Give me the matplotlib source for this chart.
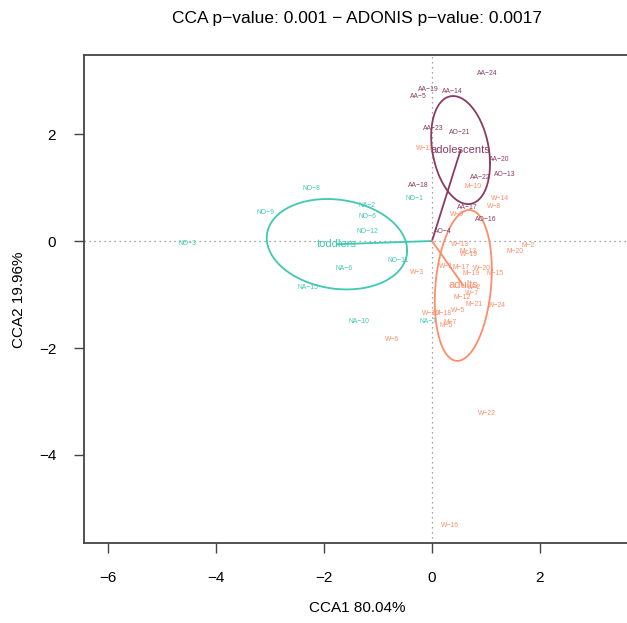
import matplotlib
matplotlib.use("Agg")
import matplotlib.pyplot as plt
import numpy as np

plt.rcParams['font.family'] = ['Liberation Sans', 'DejaVu Sans']

# site scores (CCA1, CCA2) per age group
toddler_ids = ['NO-8', 'NA-2', 'NO-9', 'NO-6', 'NO-12', 'NO-3', 'NO-11', 'NA-6',
               'NA-15', 'NA-10', 'NO-1', 'NA-7']
toddler_x = [-2.24, -1.20, -3.09, -1.19, -1.19, -4.52, -0.63, -1.63, -2.30, -1.35, -0.33, -0.07]
toddler_y = [0.99, 0.67, 0.54, 0.45, 0.17, -0.04, -0.37, -0.52, -0.86, -1.50, 0.79, -1.51]

adol_ids = ['AA-24', 'AA-19', 'AA-5', 'AA-14', 'AA-23', 'AO-21', 'AA-20', 'AO-13',
            'AA-22', 'AA-18', 'AA-17', 'AO-16', 'AO-4']
adol_x = [1.02, -0.07, -0.26, 0.37, 0.02, 0.52, 1.24, 1.35, 0.89, -0.26, 0.65, 1.00, 0.20]
adol_y = [3.14, 2.84, 2.71, 2.79, 2.11, 2.02, 1.53, 1.25, 1.18, 1.03, 0.62, 0.41, 0.17]

adult_ids = ['W-11', 'M-10', 'W-14', 'W-8', 'W-9', 'W-13', 'M-2', 'M-20', 'M-13', 'W-19',
             'W-3', 'W-1', 'M-17', 'W-20', 'M-19', 'M-15', 'W-2', 'W-7', 'M-12', 'M-21',
             'W-24', 'W-5', 'W-10', 'M-18', 'M-5', 'M-7', 'W-6', 'W-22', 'W-16']
adult_x = [-0.13, 0.76, 1.26, 1.15, 0.46, 0.52, 1.78, 1.54, 0.67, 0.69,
           -0.28, 0.26, 0.54, 0.93, 0.72, 1.17, 0.78, 0.74, 0.56, 0.78,
           1.20, 0.48, -0.02, 0.20, 0.26, 0.33, -0.74, 1.02, 0.33]
adult_y = [1.72, 1.01, 0.79, 0.65, 0.49, -0.07, -0.09, -0.19, -0.19, -0.26,
           -0.58, -0.47, -0.49, -0.52, -0.60, -0.60, -0.86, -0.98, -1.05, -1.18,
           -1.21, -1.29, -1.35, -1.36, -1.58, -1.52, -1.85, -3.23, -5.31]

groups = ['toddlers', 'adolescents', 'adults']
group_colors = ['#3ec9b3', '#8b3a62', '#ff8c69']
# group centroids and ellipse covariance (xx, yy, xy)
centroid_x = [-1.76, 0.53, 0.58]
centroid_y = [-0.06, 1.70, -0.83]
ell_cov = [(1.69, 0.714, -0.152), (0.297, 1.02, -0.14), (0.279, 1.99, 0.155)]

fig = plt.figure(figsize=(6.27, 6.23), dpi=100)
ax = fig.add_axes([84 / 627, 80 / 623, 546 / 627, 488 / 623])
ax.set_xlim(-6.444, 3.667)
ax.set_ylim(-5.645, 3.477)

ax.axhline(0, color='#888888', lw=0.9, ls=(0, (1, 3)), zorder=1)
ax.axvline(0, color='#888888', lw=0.9, ls=(0, (1, 3)), zorder=1)

t = np.linspace(0, 2 * np.pi, 200)
for g in range(3):
    cxx, cyy, cxy = ell_cov[g]
    L = np.linalg.cholesky(np.array([[cxx, cxy], [cxy, cyy]]))
    pts = L @ np.vstack([np.cos(t), np.sin(t)])
    ax.plot(centroid_x[g] + pts[0], centroid_y[g] + pts[1], color=group_colors[g], lw=1.3, zorder=2)
    # spider arm from origin to centroid
    ax.plot([0, centroid_x[g]], [0, centroid_y[g]], color=group_colors[g], lw=1.3, zorder=2)

for ids, xs, ys, col in [(toddler_ids, toddler_x, toddler_y, group_colors[0]),
                         (adol_ids, adol_x, adol_y, group_colors[1]),
                         (adult_ids, adult_x, adult_y, group_colors[2])]:
    for name, x, y in zip(ids, xs, ys):
        ax.text(x, y, name.replace('-', '\u2212'), color=col, fontsize=4.9,
                ha='center', va='center', zorder=3)

for g in range(3):
    ax.text(centroid_x[g], centroid_y[g], groups[g], color=group_colors[g], fontsize=8,
            ha='center', va='center', zorder=4)

ax.set_xticks([-6, -4, -2, 0, 2])
ax.set_xticklabels(['\u22126', '\u22124', '\u22122', '0', '2'])
ax.set_yticks([-4, -2, 0, 2])
ax.set_yticklabels(['\u22124', '\u22122', '0', '2'])
ax.tick_params(direction='out', length=7, width=1.0, color='#444444', labelsize=11, pad=13)
for s in ax.spines.values():
    s.set_color('#444444')
    s.set_linewidth(1.3)

fig.text(357 / 627, 1 - 18 / 623, 'CCA p\u2212value: 0.001 \u2212 ADONIS p\u2212value: 0.0017',
         ha='center', va='center', fontsize=12.5)
fig.text(357 / 627, 1 - 608 / 623, 'CCA1 80.04%', ha='center', va='center', fontsize=11)
fig.text(19 / 627, 1 - 300 / 623, 'CCA2 19.96%', ha='center', va='center', fontsize=11,
         rotation=90)

fig.savefig('out.png', dpi=100)
